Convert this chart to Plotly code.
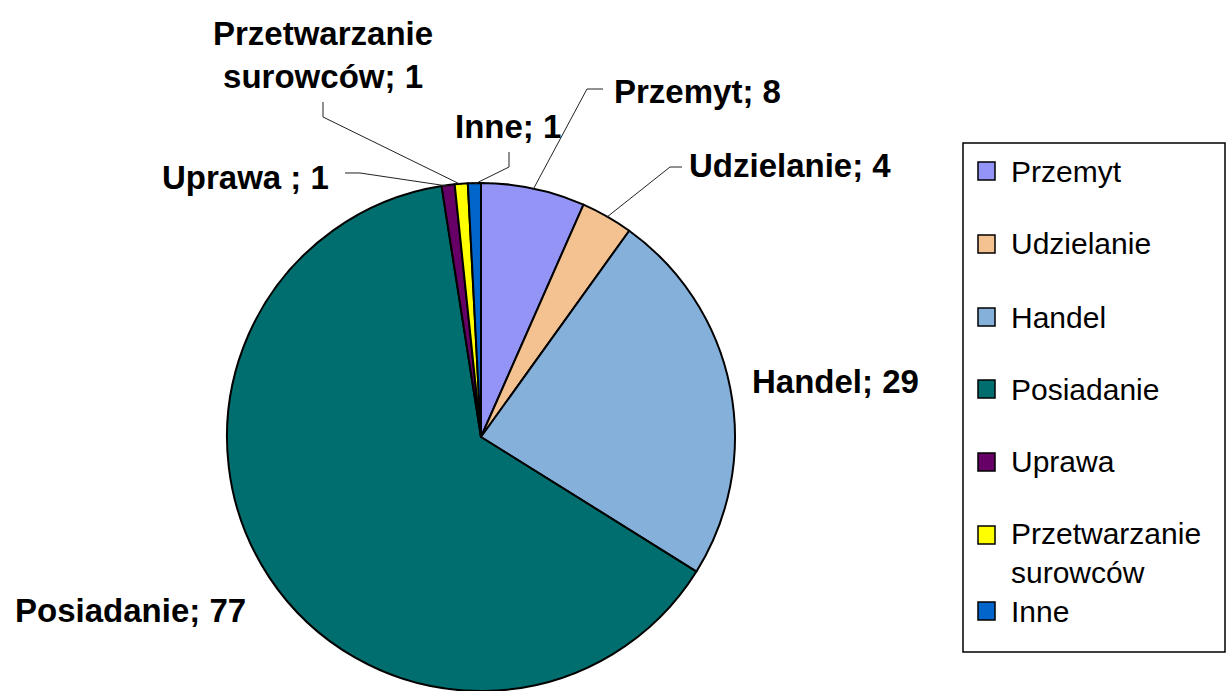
import math
import plotly.graph_objects as go

# ---------------- data ----------------
categories = ["Przemyt", "Udzielanie", "Handel", "Posiadanie", "Uprawa ", "Przetwarzanie surowców", "Inne"]
values = [8, 4, 29, 77, 1, 1, 1]
colors = ["#9494F6", "#F4C290", "#85B0DA", "#006E6E", "#660066", "#FFFF00", "#0066CC"]

# ---------------- layout constants (pixels) ----------------
W, H = 1229, 691
CX, CY, R = 481, 437, 254


def px(x):
    return x / W


def py(y):
    return 1 - y / H


def disp(name):
    return name.replace("Przetwarzanie ", "Przetwarzanie<br>")


fig = go.Figure(
    go.Pie(
        labels=[disp(c).replace("<br>", " ") for c in categories],
        values=values,
        sort=False,
        direction="clockwise",
        rotation=0,
        marker=dict(colors=colors, line=dict(color="black", width=2)),
        textinfo="none",
        showlegend=False,
        domain=dict(x=[px(CX - R), px(CX + R)], y=[0, py(CY - R)]),
    )
)

# data-label placement (left/center x, middle y) and leader-line bends
label_pos = [
    (612, 92, "left"),
    (687, 165, "left"),
    (750, 382, "left"),
    (13, 610, "left"),
    (160, 177, "left"),
    (323, 55, "center"),
    (453, 127, "left"),
]
leader_bends = [
    [(603, 89), (587, 89)],
    [(682, 167), (670, 167)],
    None,
    None,
    [(345, 173), (360, 173)],
    [(323, 102), (323, 117)],
    [(509, 152), (509, 167)],
]

total = sum(values)
cum = 0
annotations = []
shapes = []
LBL_FONT = dict(family="Liberation Sans", size=33, color="black", weight="bold")
for i, (cat, v) in enumerate(zip(categories, values)):
    theta = 2 * math.pi * (cum + v / 2) / total
    cum += v
    ex = CX + (R - 1) * math.sin(theta)
    ey = CY - (R - 1) * math.cos(theta)
    lx, ly, anch = label_pos[i]
    annotations.append(
        dict(
            x=px(lx), y=py(ly), xref="paper", yref="paper",
            text=f"{disp(cat)}; {v}", showarrow=False,
            xanchor=anch, yanchor="middle", align="center",
            font=LBL_FONT,
        )
    )
    bends = leader_bends[i]
    if bends:
        pts = bends + [(ex, ey)]
        path = "M " + " L ".join(f"{px(a):.5f},{py(b):.5f}" for a, b in pts)
        shapes.append(dict(type="path", path=path, xref="paper", yref="paper",
                           line=dict(color="#222222", width=1)))

# ---------------- legend (manual, box at right) ----------------
shapes.append(dict(type="rect", xref="paper", yref="paper",
                   x0=px(963), x1=px(1225), y0=py(652), y1=py(143),
                   line=dict(color="black", width=1.5), fillcolor="white", layer="below"))
LEG_FONT = dict(family="Liberation Sans", size=30, color="black")
leg_y = [171, 244, 317, 389, 462, 535, 611]
for i, (cat, col) in enumerate(zip(categories, colors)):
    yc = leg_y[i]
    shapes.append(dict(type="rect", xref="paper", yref="paper",
                       x0=px(978), x1=px(995), y0=py(yc + 9), y1=py(yc - 9),
                       line=dict(color="black", width=1.5), fillcolor=col))
    txt = disp(cat.strip())
    ty = yc + (18 if "<br>" in txt else 0)
    annotations.append(dict(x=px(1010), y=py(ty), xref="paper", yref="paper",
                            text=txt, showarrow=False, xanchor="left",
                            yanchor="middle", align="left", font=LEG_FONT,
                            borderpad=0))

fig.update_layout(
    width=W, height=H,
    margin=dict(l=0, r=0, t=0, b=0),
    paper_bgcolor="white", plot_bgcolor="white",
    annotations=annotations, shapes=shapes,
    showlegend=False,
)
fig.write_html(
    "out.html",
    config={"displayModeBar": False},
    post_script="document.body.style.margin='0';document.body.style.overflow='hidden';",
)
